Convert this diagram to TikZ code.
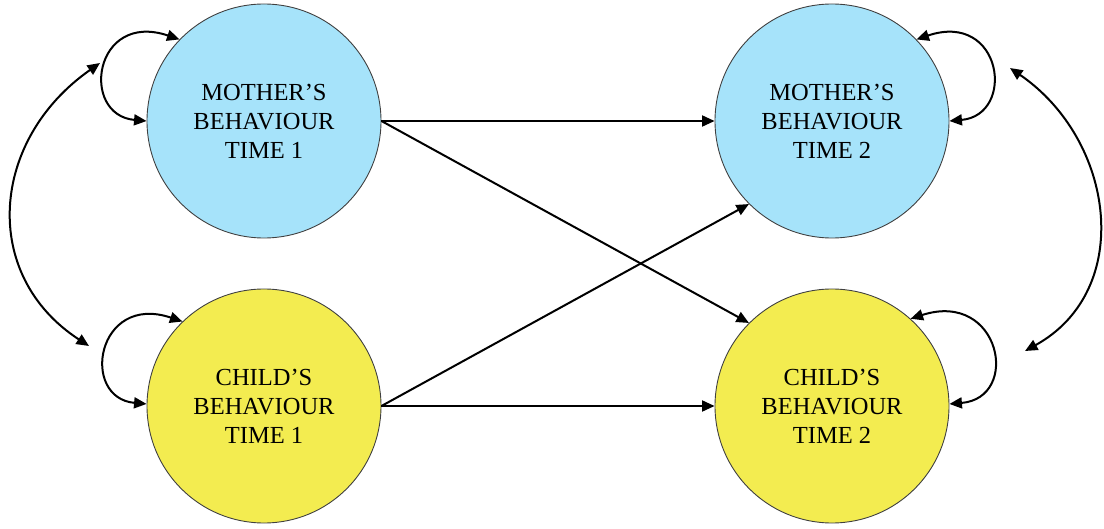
\documentclass[tikz,border=0pt]{standalone}
\usepackage{fontspec}
\setmainfont{Liberation Serif}
\usetikzlibrary{arrows.meta}
\definecolor{motherblue}{RGB}{166,227,250}
\definecolor{childyellow}{RGB}{243,236,80}
\begin{document}
\begin{tikzpicture}[x=1pt,y=-1pt,
  state/.style={circle,draw=black!75,line width=0.9pt,minimum size=234pt,inner sep=0pt,
    align=center,font=\fontsize{24.5}{29}\selectfont},
  mother/.style={state,fill=motherblue},
  child/.style={state,fill=childyellow},
  tip/.style={Triangle[length=12.5pt,width=11pt]},
  link/.style={line width=2pt,-{Triangle[length=12.5pt,width=11pt]}},
  both/.style={line width=2pt,{Triangle[length=12.5pt,width=11pt]}-{Triangle[length=12.5pt,width=11pt]}}]
\useasboundingbox (0,0) rectangle (1104,529);

% behaviour nodes
\node[mother] (m1) at (264,121) {MOTHER’S\\BEHAVIOUR\\TIME 1};
\node[mother] (m2) at (832,121) {MOTHER’S\\BEHAVIOUR\\TIME 2};
\node[child]  (c1) at (264,406) {CHILD’S\\BEHAVIOUR\\TIME 1};
\node[child]  (c2) at (832,406) {CHILD’S\\BEHAVIOUR\\TIME 2};

% cross-lagged and stability paths
\draw[link] (m1.east) -- (m2.west);
\draw[link] (c1.east) -- (c2.west);
\draw[link] (m1.east) -- (c2.135);
\draw[link] (c1.east) -- (m2.225);

% residual loops
\draw[both] (m1.180) .. controls +(-67,-6) and +(-86,-29) .. (m1.136);
\draw[both] (c1.179) .. controls +(-67,-6) and +(-86,-29) .. (c1.134);
\draw[both] (m2.0) .. controls +(67,-6) and +(86,-29) .. (m2.44);
\draw[both] (c2.1) .. controls +(72,-6) and +(90,-29) .. (c2.48);

% within-time covariances
\coordinate (lt) at (100,63);
\coordinate (lb) at (89,346);
\coordinate (rt) at (1010,68);
\coordinate (rb) at (1025,351);
\draw[both] (lt) .. controls (-10,140) and (-20,275) .. (lb);
\draw[both] (rt) .. controls (1115,140) and (1135,290) .. (rb);
\end{tikzpicture}
\end{document}
